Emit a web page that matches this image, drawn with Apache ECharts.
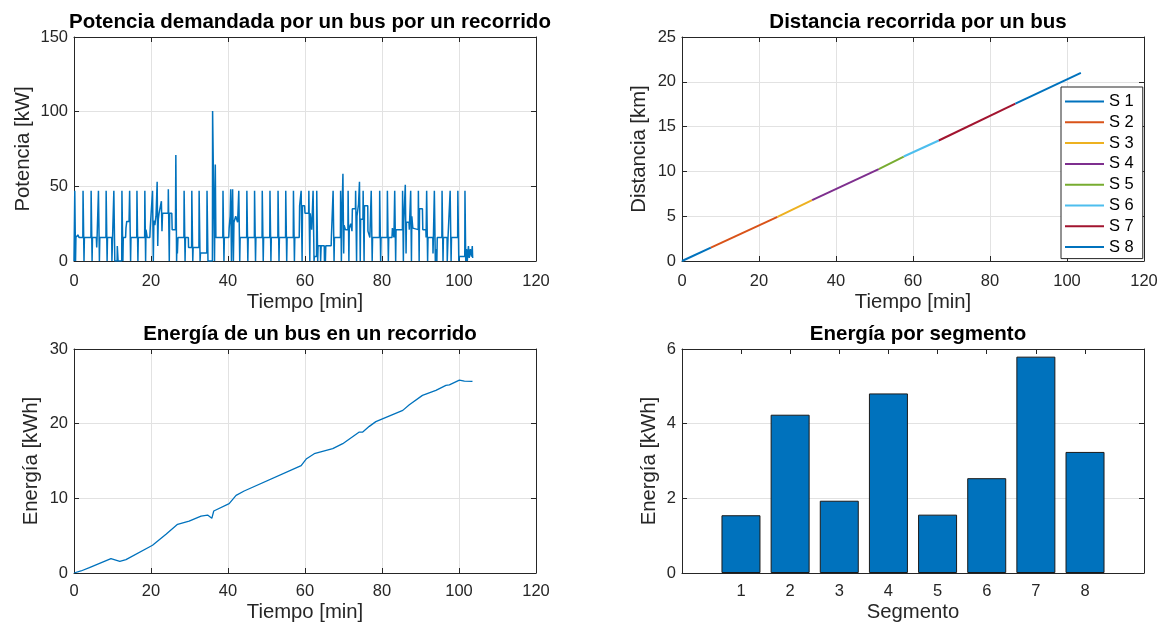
<!DOCTYPE html>
<html><head><meta charset="utf-8">
<script src="https://cdn.jsdelivr.net/npm/echarts@6/dist/echarts.min.js"></script>
<style>html,body{margin:0;padding:0;background:#fff}#c{width:1164px;height:627px}</style>
</head><body><div id="c"></div>
<script>
// ---------- DATA ----------
// Potencia demandada [min, kW]
const potencia = [
[0,0],[0.2,47],[0.4,0],[0.5,15.8],[0.9,15.8],[1.0,17.5],[1.3,15.8],
[2.3,15.8],[2.35,47],[2.6,0],[2.7,15.8],
[4.4,15.8],[4.45,47],[4.7,0],[4.8,15.8],
[5.8,15.8],[5.9,9],[6.0,15.8],
[6.3,15.8],[6.35,47],[6.6,0],[6.7,15.8],
[8.3,15.8],[8.35,47],[8.6,0],[8.7,15.8],
[9.8,15.8],[9.85,0],
[10.3,0],[10.35,47],[10.6,0],
[11.2,0],[11.25,10],[11.4,10],[11.45,0],
[12.4,0],[12.45,47],[12.7,0],[12.8,15.8],
[13.4,15.8],[13.5,22],[13.7,26.5],[14.3,26.5],
[14.4,26.5],[14.45,47],[14.7,0],[14.8,15.8],
[16.3,15.8],[16.35,47],[16.6,0],[16.7,15.8],
[18.35,15.8],[18.4,47],[18.6,0],[18.7,21],[18.9,21],[19.0,15.8],
[19.7,15.8],[19.8,22],[20.3,22],
[20.4,47],[20.6,0],[20.75,27],[21.0,24],[21.3,30],
[21.5,30],[21.6,53],[21.75,10],[21.9,28],[22.1,32],
[22.6,32],[22.7,40],[22.85,20],[23.0,32],
[24.45,32],[24.5,48],[24.75,0],[24.85,32],[25.4,32],[25.5,21],[26.35,21],
[26.45,71],[26.65,0],[26.75,12],[26.85,5],[27.0,15.8],
[28.55,15.8],[28.6,47],[28.85,0],[28.95,15.8],[29.7,15.8],[29.75,9],
[30.55,9],[30.6,47],[30.85,0],[30.95,9],
[32.45,9],[32.5,47],[32.75,0],[32.85,5.3],
[34.5,5.3],[34.55,47],[34.8,0],
[35.95,0],[36.0,100.5],[36.45,100.5],[36.5,0],[36.7,64.7],[36.85,15.8],
[38.65,15.8],[38.7,47],[38.95,0],[39.05,15.8],
[40.2,15.8],[40.3,22],[40.55,30],
[40.65,30],[40.7,48],[40.9,0],[41.0,25],
[41.15,25],[41.2,48],[41.4,0],[41.55,26],[42.0,30],[42.5,26],
[42.75,26],[42.8,47],[43.05,0],[43.15,15.8],
[44.85,15.8],[44.9,47],[45.15,0],[45.25,15.8],
[46.85,15.8],[46.9,47],[47.15,0],[47.25,15.8],
[48.85,15.8],[48.9,47],[49.15,0],[49.25,15.8],
[50.85,15.8],[50.9,47],[51.15,0],[51.25,15.8],
[52.95,15.8],[53.0,47],[53.25,0],[53.35,15.8],
[54.95,15.8],[55.0,47],[55.25,0],[55.35,15.8],
[56.95,15.8],[57.0,47],[57.25,0],[57.35,15.8],
[58.5,15.8],[58.6,37],
[58.95,37],[59.0,47],[59.25,0],[59.35,37],[59.9,37],[60.0,32],
[60.95,32],[61.0,47],[61.25,0],[61.35,32],[61.7,32],[61.75,21],
[62.05,21],[62.1,47],[62.35,0],[62.45,3],
[63.0,3],[63.05,47],[63.3,0],[63.4,10.2],
[64.0,10.2],[64.05,0],[64.2,10.2],
[65.0,10.2],[65.05,0],[65.2,10.2],[65.3,0],[65.4,10.2],
[66.8,10.2],[66.85,15.8],
[67.25,15.8],[67.3,47],[67.55,0],[67.65,15.8],
[69.2,15.8],[69.25,47],[69.45,0],[69.55,25],
[69.8,25],[69.85,58.4],[70.05,5],[70.15,24],[70.5,21],
[71.15,21],[71.2,47],[71.4,0],[71.5,22],[71.9,25],[72.2,20],
[72.3,35],[73.1,35],
[73.15,47],[73.4,0],[73.5,30],[73.9,38],
[74.1,38],[74.15,53],[74.35,0],[74.45,28],
[75.05,28],[75.1,47],[75.35,0],[75.45,37],[76.3,37],[76.35,20],[76.8,20],[76.85,15.8],
[77.15,15.8],[77.2,47],[77.45,0],[77.55,15.8],
[79.35,15.8],[79.4,47],[79.65,0],[79.75,15.8],
[81.35,15.8],[81.4,47],[81.65,0],[81.75,15.8],
[82.6,15.8],[82.7,22],[83.0,22],[83.1,15.8],
[83.25,15.8],[83.3,47],[83.55,0],[83.65,21],[85.3,21],
[85.35,47],[85.55,0],[85.65,26],
[86.0,26],[86.05,51],[86.25,5],[86.35,26],[87.0,26],[87.1,21],
[87.4,21],[87.45,47],[87.65,0],[87.75,30],[88.0,22],[88.4,21],
[89.4,21],[89.45,47],[89.65,0],[89.75,35],[90.5,35],[90.6,21],[91.4,21],[91.45,15.8],
[91.55,15.8],[91.6,47],[91.85,0],[91.95,15.8],
[93.2,15.8],[93.25,5],[93.35,15.8],
[93.55,15.8],[93.6,47],[93.85,0],[93.95,8],[94.25,0],[94.35,15.8],
[95.55,15.8],[95.6,47],[95.85,0],[95.95,15.8],
[96.9,15.8],[96.95,0],[97.1,0],[97.15,15.8],
[97.65,15.8],[97.7,47],[97.95,0],[98.05,15.8],
[99.65,15.8],[99.7,47],[99.95,0],[100.05,3],[101.5,3],
[101.55,47],[101.75,0],[101.95,8],[102.15,0],[102.45,10],[102.65,2],[102.95,8],[103.25,3],[103.45,10],[103.55,2]
];

// Distancia recorrida por segmento [min, km]
const segNames = ['S 1','S 2','S 3','S 4','S 5','S 6','S 7','S 8'];
const segDist = [
  [[0,0],[7.5,1.5]],
  [[7.5,1.5],[24.8,4.93]],
  [[24.8,4.93],[33.8,6.8]],
  [[33.8,6.8],[51.1,10.25]],
  [[51.1,10.25],[57.6,11.66]],
  [[57.6,11.66],[66.7,13.45]],
  [[66.7,13.45],[86.6,17.57]],
  [[86.6,17.57],[103.6,21.0]]
];

// Energía acumulada [min, kWh]
const energia = [
[0,0],[1.8,0.27],[4.0,0.71],[9.6,1.93],[11.9,1.56],[13.5,1.79],[20.4,3.71],[23.9,5.18],
[26.9,6.52],[29.9,6.96],[33.0,7.63],[34.7,7.76],[35.8,7.32],[36.3,8.3],[40.3,9.29],
[42.1,10.4],[44.2,10.98],[59.0,14.38],[60.3,15.26],[62.4,15.98],[67.2,16.65],[69.8,17.32],
[74.1,18.88],[75.0,18.88],[76.7,19.64],[78.4,20.27],[85.4,21.78],[87.1,22.54],[90.5,23.79],
[94.0,24.46],[96.6,25.13],[97.5,25.19],[100.1,25.84],[101.4,25.7],[103.5,25.66]
];

// Energía por segmento [kWh]
const segmentos = [1,2,3,4,5,6,7,8];
const energiaSeg = [1.547,4.24,1.936,4.81,1.563,2.54,5.795,3.243];

// ---------- CHART ----------
const FONT = "'Liberation Sans', Arial, Helvetica, sans-serif";
const INK = '#262626';
const GRIDC = '#e2e2e2';
const TICKFS = 16.5, NAMEFS = 20.3;
const segColors = ['#0072BD','#D95319','#EDB120','#7E2F8E','#77AC30','#4DBEEE','#A2142F','#0072BD'];

const grids = [
  {left:74, top:37, width:462, height:224},
  {left:682, top:37, width:462, height:224},
  {left:74, top:349, width:462, height:224},
  {left:682, top:349, width:462, height:224}
];

function xAx(g, o) {
  const base = {
    type:'value', gridIndex:g, min:o.min, max:o.max, interval:o.interval,
    axisLine:{show:true, onZero:false, lineStyle:{color:INK, width:1}},
    axisTick:{show:true, inside:true, length:5, lineStyle:{color:INK}},
    axisLabel:{show:true, color:INK, fontSize:TICKFS, fontFamily:FONT, margin:o.margin},
    splitLine:{show:o.grid !== false, lineStyle:{color:GRIDC, width:1}},
    name:o.name, nameLocation:'middle', nameGap:o.nameGap,
    nameTextStyle:{color:INK, fontSize:NAMEFS, fontFamily:FONT}
  };
  if (o.custom) {
    base.axisLabel.customValues = o.custom;
    base.axisTick.customValues = o.custom;
  }
  const top = {
    type:'value', gridIndex:g, position:'top', min:o.min, max:o.max, interval:o.interval,
    axisLine:{show:true, onZero:false, lineStyle:{color:INK, width:1}},
    axisTick:{show:true, inside:true, length:5, lineStyle:{color:INK}},
    axisLabel:{show:false}, splitLine:{show:false}
  };
  if (o.custom) top.axisTick.customValues = o.custom;
  return [base, top];
}
function yAx(g, o) {
  return [{
    type:'value', gridIndex:g, min:o.min, max:o.max, interval:o.interval,
    axisLine:{show:true, onZero:false, lineStyle:{color:INK, width:1}},
    axisTick:{show:true, inside:true, length:5, lineStyle:{color:INK}},
    axisLabel:{show:true, color:INK, fontSize:TICKFS, fontFamily:FONT, margin:6},
    splitLine:{show:true, lineStyle:{color:GRIDC, width:1}},
    name:o.name, nameLocation:'middle', nameGap:o.nameGap, nameRotate:90,
    nameTextStyle:{color:INK, fontSize:NAMEFS, fontFamily:FONT}
  },{
    type:'value', gridIndex:g, position:'right', min:o.min, max:o.max, interval:o.interval,
    axisLine:{show:true, onZero:false, lineStyle:{color:INK, width:1}},
    axisTick:{show:true, inside:true, length:5, lineStyle:{color:INK}},
    axisLabel:{show:false}, splitLine:{show:false}
  }];
}

const xAxes = [].concat(
  xAx(0,{min:0,max:120,interval:20,name:'Tiempo [min]',nameGap:31,margin:12}),
  xAx(1,{min:0,max:120,interval:20,name:'Tiempo [min]',nameGap:31,margin:12}),
  xAx(2,{min:0,max:120,interval:20,name:'Tiempo [min]',nameGap:29,margin:10}),
  xAx(3,{min:-0.2,max:9.2,interval:1,name:'Segmento',nameGap:29,margin:10,grid:false,custom:segmentos})
);
const yAxes = [].concat(
  yAx(0,{min:0,max:150,interval:50,name:'Potencia [kW]',nameGap:41}),
  yAx(1,{min:0,max:25,interval:5,name:'Distancia [km]',nameGap:33}),
  yAx(2,{min:0,max:30,interval:10,name:'Energía [kWh]',nameGap:33}),
  yAx(3,{min:0,max:6,interval:2,name:'Energía [kWh]',nameGap:23})
);

const series = [];
series.push({type:'line', xAxisIndex:0, yAxisIndex:0, data:potencia, showSymbol:false,
  lineStyle:{color:'#0072BD', width:1.5}, animation:false});
segDist.forEach((d,i)=>{
  series.push({type:'line', name:segNames[i], xAxisIndex:2, yAxisIndex:2, data:d,
    showSymbol:false, color:segColors[i],
    lineStyle:{color:segColors[i], width:2}, itemStyle:{color:segColors[i]}, animation:false});
});
series.push({type:'line', xAxisIndex:4, yAxisIndex:4, data:energia, showSymbol:false,
  lineStyle:{color:'#0072BD', width:1.3}, animation:false});
series.push({type:'bar', xAxisIndex:6, yAxisIndex:6,
  data:segmentos.map((s,i)=>[s, energiaSeg[i]]), barWidth:39,
  itemStyle:{color:'#0072BD', borderColor:'#1a1a1a', borderWidth:1}, animation:false});

const titleStyle = {color:'#000', fontSize:20.5, fontWeight:'bold', fontFamily:FONT};
const option = {
  backgroundColor:'#fff',
  animation:false,
  title:[
    {text:'Potencia demandada por un bus por un recorrido', left:305, top:7, textAlign:'center', textStyle:titleStyle},
    {text:'Distancia recorrida por un bus', left:913, top:7, textAlign:'center', textStyle:titleStyle},
    {text:'Energía de un bus en un recorrido', left:305, top:319, textAlign:'center', textStyle:titleStyle},
    {text:'Energía por segmento', left:913, top:319, textAlign:'center', textStyle:titleStyle}
  ],
  grid:grids,
  xAxis:xAxes,
  yAxis:yAxes,
  legend:{
    data:segNames, orient:'vertical', left:1061, top:87, width:81,
    icon:'rect', itemWidth:39, itemHeight:2, itemGap:3.8,
    padding:[6,9,3,4], borderColor:INK, borderWidth:1, backgroundColor:'#fff',
    textStyle:{color:'#000', fontSize:16.5, fontFamily:FONT},
    selectedMode:false
  },
  series:series
};
const chart = echarts.init(document.getElementById('c'), null, {renderer:'canvas'});
chart.setOption(option);
</script></body></html>
